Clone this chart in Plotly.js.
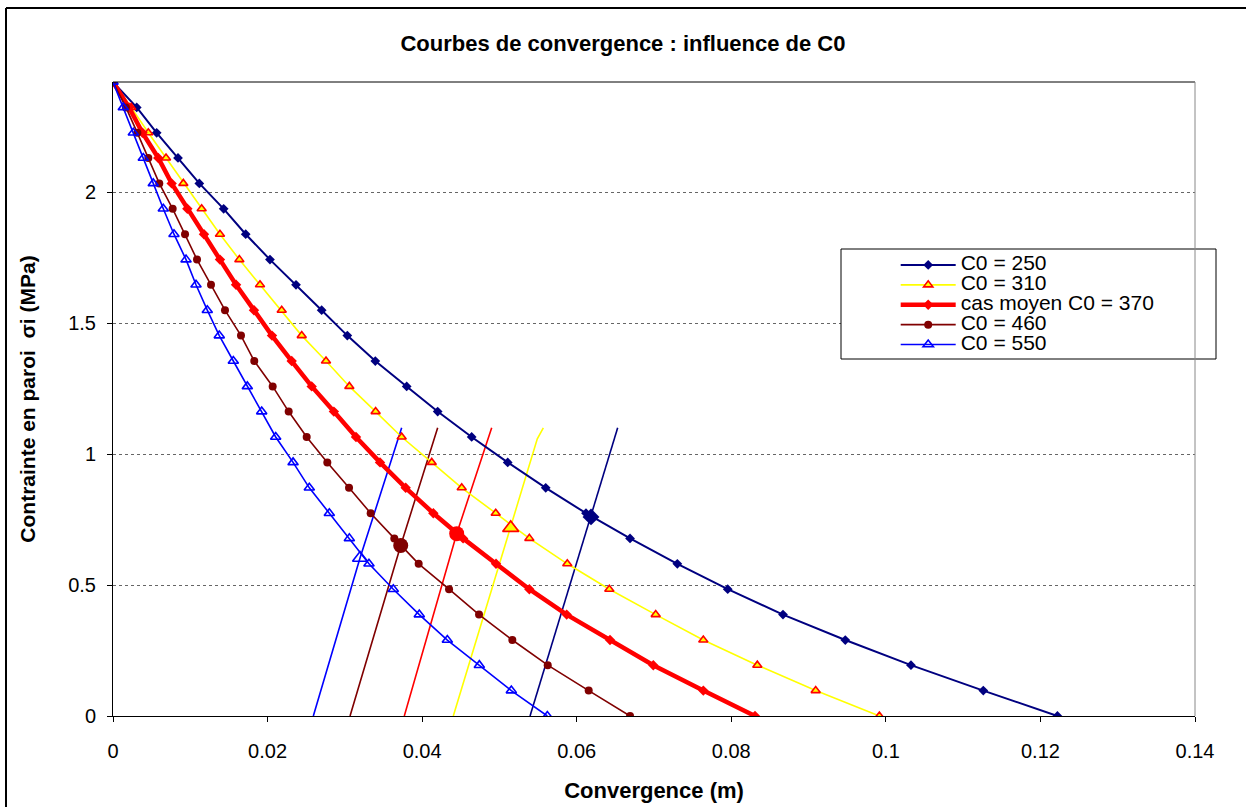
<!DOCTYPE html>
<html>
<head>
<meta charset="utf-8">
<script src="https://cdn.plot.ly/plotly-3.0.1.min.js"></script>
<style>html,body{margin:0;padding:0;background:#fff;}#chart{width:1246px;height:807px;}</style>
</head>
<body>
<div id="chart"></div>
<script>
// Wall stress (MPa), shared by every convergence curve
const sigma = [2.42, 2.323, 2.226, 2.130, 2.033, 1.936, 1.839, 1.742, 1.646, 1.549, 1.452, 1.355, 1.258,
  1.162, 1.065, 0.968, 0.871, 0.774, 0.678, 0.581, 0.484, 0.387, 0.290, 0.194, 0.097, 0];

// Convergence (m) for each C0
const conv250 = [0, 0.00307, 0.00565, 0.00841, 0.01117, 0.01432, 0.01717, 0.02031, 0.02368, 0.02700, 0.03032,
  0.03394, 0.03800, 0.04201, 0.04641, 0.05107, 0.05599, 0.06120, 0.06690, 0.07302, 0.07954, 0.08669, 0.09475,
  0.10325, 0.11261, 0.12220];
const conv310 = [0, 0.00236, 0.00457, 0.00686, 0.00910, 0.01147, 0.01384, 0.01635, 0.01902, 0.02183, 0.02442,
  0.02756, 0.03058, 0.03398, 0.03735, 0.04124, 0.04512, 0.04952, 0.05387, 0.05878, 0.06422, 0.07022, 0.07638,
  0.08337, 0.09092, 0.09916];
const conv370 = [0, 0.00207, 0.00382, 0.00586, 0.00759, 0.00962, 0.01177, 0.01384, 0.01592, 0.01824, 0.02057,
  0.02312, 0.02571, 0.02858, 0.03144, 0.03455, 0.03787, 0.04145, 0.04530, 0.04956, 0.05387, 0.05870, 0.06431,
  0.06991, 0.07638, 0.08307];
const conv460 = [0, 0.00167, 0.00315, 0.00457, 0.00599, 0.00772, 0.00932, 0.01087, 0.01268, 0.01449, 0.01656,
  0.01828, 0.02066, 0.02273, 0.02506, 0.02773, 0.03054, 0.03334, 0.03640, 0.03955, 0.04348, 0.04736, 0.05167,
  0.05625, 0.06155, 0.06690];
const conv550 = [0, 0.00133, 0.00263, 0.00392, 0.00521, 0.00651, 0.00789, 0.00945, 0.01074, 0.01220, 0.01375,
  0.01557, 0.01738, 0.01924, 0.02105, 0.02330, 0.02540, 0.02799, 0.03058, 0.03312, 0.03627, 0.03963, 0.04326,
  0.04740, 0.05154, 0.05620];

// Support (confinement) lines
const sup250X = [0.05396, 0.06185, 0.06530];          const sup250Y = [0, 0.760, 1.1];
const sup310X = [0.04403, 0.05146, 0.05490, 0.05568]; const sup310Y = [0, 0.718, 1.058, 1.1];
const sup370X = [0.03769, 0.04447, 0.04900];          const sup370Y = [0, 0.696, 1.1];
const sup460X = [0.03067, 0.03723, 0.04201];          const sup460Y = [0, 0.651, 1.1];
const sup550X = [0.02592, 0.03196, 0.03735];          const sup550Y = [0, 0.603, 1.1];

// Equilibrium points
const eqX = [0.06185, 0.05146, 0.04447, 0.03723, 0.03196];
const eqY = [0.760, 0.718, 0.696, 0.651, 0.603];

const names = ['C0 = 250', 'C0 = 310', 'cas moyen C0 = 370', 'C0 = 460', 'C0 = 550'];

const NAVY = '#000080', YEL = '#FFFF00', RED = '#FF0000', DRED = '#800000', BLUE = '#0000FF';
const FONT = 'Arial, "Liberation Sans", sans-serif';
const lg = s => '<span style="font-size:21px">' + s + '</span>';

const traces = [];
// support lines
[[sup250X, sup250Y, NAVY], [sup310X, sup310Y, YEL], [sup370X, sup370Y, RED],
 [sup460X, sup460Y, DRED], [sup550X, sup550Y, BLUE]].forEach(s => {
  traces.push({x: s[0], y: s[1], type: 'scatter', mode: 'lines', showlegend: false, hoverinfo: 'skip',
    line: {color: s[2], width: 1.6}});
});
// convergence curves
traces.push({x: conv250, y: sigma, name: lg(names[0]), type: 'scatter', mode: 'lines+markers',
  line: {color: NAVY, width: 2}, marker: {symbol: 'diamond', size: 7.5, color: NAVY}});
traces.push({x: conv310, y: sigma, name: lg(names[1]), type: 'scatter', mode: 'lines+markers',
  line: {color: YEL, width: 1.6}, marker: {symbol: 'triangle-up', size: 8, color: YEL, line: {color: RED, width: 1.6}}});
traces.push({x: conv370, y: sigma, name: lg(names[2]), type: 'scatter', mode: 'lines+markers',
  line: {color: RED, width: 4.5}, marker: {symbol: 'diamond', size: 8, color: RED}});
traces.push({x: conv460, y: sigma, name: lg(names[3]), type: 'scatter', mode: 'lines+markers',
  line: {color: DRED, width: 1.6}, marker: {symbol: 'circle', size: 8, color: DRED}});
traces.push({x: conv550, y: sigma, name: lg(names[4]), type: 'scatter', mode: 'lines+markers',
  line: {color: BLUE, width: 1.6}, marker: {symbol: 'triangle-up-open', size: 9, color: BLUE, line: {color: BLUE, width: 1.6}}});
// equilibrium points
const eqStyle = [
  {symbol: 'diamond', size: 13, color: NAVY},
  {symbol: 'triangle-up', size: 14, color: YEL, line: {color: RED, width: 1.6}},
  {symbol: 'circle', size: 15, color: RED},
  {symbol: 'circle', size: 15, color: DRED},
  {symbol: 'triangle-up-open', size: 13, color: BLUE, line: {color: BLUE, width: 1.6}}
];
for (let i = 0; i < eqX.length; i++) {
  traces.push({x: [eqX[i]], y: [eqY[i]], type: 'scatter', mode: 'markers', showlegend: false,
    hoverinfo: 'skip', marker: eqStyle[i]});
}

const layout = {
  width: 1246, height: 807,
  margin: {l: 113, r: 51, t: 82, b: 91},
  paper_bgcolor: '#fff', plot_bgcolor: '#fff',
  font: {family: FONT, color: '#000'},
  showlegend: true,
  title: {text: 'Courbes de convergence : influence de C0', font: {family: FONT, size: 22, weight: 'bold', color: '#000'},
    x: 0.5, xref: 'container', xanchor: 'center', y: 1 - 43 / 807, yref: 'container', yanchor: 'middle'},
  xaxis: {
    range: [0, 0.14], tick0: 0, dtick: 0.02, showgrid: false, zeroline: false,
    showline: true, linecolor: '#000', linewidth: 1, ticks: 'outside', ticklen: 5, tickcolor: '#000',
    tickfont: {family: FONT, size: 20, color: '#000'}, ticklabelstandoff: 12,
    title: {text: 'Convergence (m)', font: {family: FONT, size: 22, weight: 'bold', color: '#000'}, standoff: 21}
  },
  yaxis: {
    range: [0, 2.42], tick0: 0, dtick: 0.5, showgrid: true, gridcolor: '#666', griddash: 'dot', gridwidth: 1,
    zeroline: false, showline: true, linecolor: '#000', linewidth: 1, ticks: 'outside', ticklen: 5, tickcolor: '#000',
    tickfont: {family: FONT, size: 20, color: '#000'}, ticklabelstandoff: 7,
    title: {text: 'Contrainte en paroi  σi (MPa)', font: {family: FONT, size: 21, weight: 'bold', color: '#000'}, standoff: 26}
  },
  legend: {
    x: (895.7 - 113) / 1082, xanchor: 'left', y: (716 - 250) / 634, yanchor: 'top',
    bgcolor: 'rgba(0,0,0,0)', borderwidth: 0, font: {family: FONT, size: 13, color: '#000'},
    itemwidth: 55, traceorder: 'normal', tracegroupgap: 0
  },
  shapes: [
    // legend box
    {type: 'rect', xref: 'paper', yref: 'paper', x0: (841 - 113) / 1082, x1: (1216 - 113) / 1082,
      y0: (716 - 359) / 634, y1: (716 - 249) / 634, fillcolor: '#fff', line: {color: '#000', width: 1}, layer: 'above'},
    // plot-area top and right borders
    {type: 'line', xref: 'paper', yref: 'paper', x0: 0, x1: 1, y0: 1, y1: 1, line: {color: '#000', width: 1}},
    {type: 'line', xref: 'paper', yref: 'paper', x0: 1, x1: 1, y0: 0, y1: 1, line: {color: '#888', width: 1}},
    // outer chart frame
    {type: 'line', xref: 'paper', yref: 'paper', x0: (6 - 113) / 1082, x1: 1.3, y0: (716 - 8) / 634, y1: (716 - 8) / 634,
      line: {color: '#000', width: 2}},
    {type: 'line', xref: 'paper', yref: 'paper', x0: (6 - 113) / 1082, x1: (6 - 113) / 1082, y0: -0.5, y1: (716 - 8) / 634,
      line: {color: '#000', width: 2}}
  ]
};

Plotly.newPlot('chart', traces, layout, {displayModeBar: false, staticPlot: true});
</script>
</body>
</html>
